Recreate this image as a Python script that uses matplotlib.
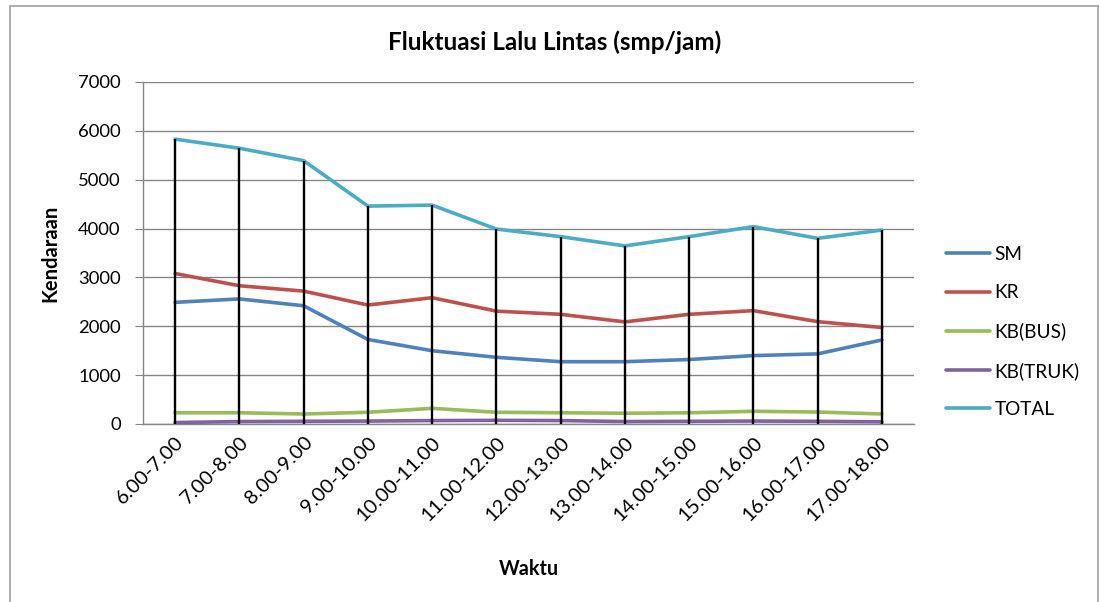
import matplotlib
matplotlib.use("Agg")
import matplotlib.pyplot as plt
from matplotlib.patches import Rectangle

plt.rcParams['font.family'] = ['Lato', 'DejaVu Sans']

# Traffic volume per hour (smp/jam)
waktu = ["6.00-7.00", "7.00-8.00", "8.00-9.00", "9.00-10.00", "10.00-11.00",
         "11.00-12.00", "12.00-13.00", "13.00-14.00", "14.00-15.00",
         "15.00-16.00", "16.00-17.00", "17.00-18.00"]
sm = [2490, 2560, 2420, 1730, 1500, 1365, 1275, 1275, 1320, 1400, 1435, 1720]
kr = [3080, 2830, 2720, 2435, 2585, 2310, 2245, 2090, 2245, 2320, 2095, 1975]
kb_bus = [230, 230, 205, 240, 320, 240, 230, 220, 230, 260, 245, 205]
kb_truk = [30, 50, 55, 60, 70, 75, 70, 50, 55, 60, 55, 45]
total = [5830, 5645, 5390, 4460, 4480, 3990, 3835, 3645, 3835, 4040, 3800, 3970]

series = [("SM", sm, "#4F81BD"),
          ("KR", kr, "#C0504D"),
          ("KB(BUS)", kb_bus, "#9BBB59"),
          ("KB(TRUK)", kb_truk, "#8064A2"),
          ("TOTAL", total, "#4BACC6")]

fig = plt.figure(figsize=(10.99, 6.02), dpi=100)
fig.patches.append(Rectangle((10 / 1099, -0.01), 1088 / 1099, 1 - 6 / 602 + 0.01,
                             transform=fig.transFigure, fill=False,
                             edgecolor="#A0A0A0", linewidth=1.2))

ax = fig.add_axes([143 / 1099, 1 - 424 / 602, (914 - 143) / 1099, (424 - 82) / 602])
x = list(range(len(waktu)))

for name, vals, color in series:
    ax.plot(x, vals, color=color, linewidth=2.6, label=name,
            solid_capstyle="round", zorder=3)

# drop lines from the total down to the axis
ax.vlines(x, 0, total, colors="black", linewidth=1.7, zorder=4)

ax.set_xlim(-0.5, len(waktu) - 0.5)
ax.set_ylim(0, 7000)
ax.set_yticks(range(0, 7001, 1000))
ax.yaxis.grid(True, color="#868686", linewidth=1.0)
ax.set_axisbelow(True)

for side in ("top", "right"):
    ax.spines[side].set_visible(False)
for side in ("left", "bottom"):
    ax.spines[side].set_color("#868686")
    ax.spines[side].set_linewidth(1.0)

ax.tick_params(axis="y", length=6, color="#868686", labelsize=13.3, pad=10)
ax.tick_params(axis="x", length=0, labelsize=14.5, pad=7)
ax.set_xticks(x)
ax.set_xticklabels(waktu, rotation=45, ha="right", rotation_mode="anchor")

# chart title centred on the whole chart area
fig.text(555 / 1099, 1 - 42 / 602, "Fluktuasi Lalu Lintas (smp/jam)",
         fontsize=17.5, fontweight="bold", ha="center", va="center")
ax.set_ylabel("Kendaraan", fontsize=14.5, fontweight="bold", labelpad=13)
ax.set_xlabel("Waktu", fontsize=14.2, fontweight="bold", labelpad=25)

ax.legend(loc="center left", bbox_to_anchor=(0.854, 1 - 332 / 602),
          bbox_transform=fig.transFigure, frameon=False,
          fontsize=13.7, handlelength=2.3, labelspacing=1.12, handletextpad=0.25,
          borderaxespad=0)

fig.savefig("out.png", dpi=100, facecolor="white")
